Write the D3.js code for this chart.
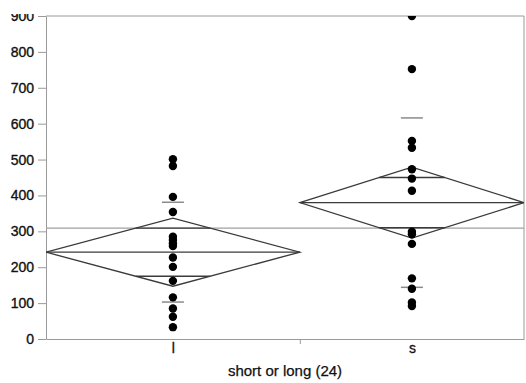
<!DOCTYPE html>
<html>
<head>
<meta charset="utf-8">
<script src="https://cdn.jsdelivr.net/npm/d3@7"></script>
<style>
  body { margin: 0; background: #fff; }
  svg { display: block; }
  text { font-family: "Liberation Sans", Arial, sans-serif; }
</style>
</head>
<body>
<div id="chart"></div>
<script>
// Data
var groups = ["l", "s"];
// share of the x axis each group takes (JMP scales it with the group size)
var groupShare = [0.531, 0.469];
var lValues = [501, 482, 396, 354, 285, 276, 267, 259, 227, 201, 162, 116, 85, 62, 33];
var sValues = [900, 752, 552, 533, 473, 447, 413, 299, 292, 265, 169, 140, 102, 92];
var means = [242, 380];
var ciHalf = [95, 99];
var stdDevs = [139, 236];
var grandMean = 309;
var yTicks = [0, 100, 200, 300, 400, 500, 600, 700, 800, 900];
var xTitle = "short or long (24)";

var values = [lValues, sValues];

var width = 526, height = 383;
// plot box (note: "top" is reserved on window, so use plot* names)
var plotLeft = 46, plotTop = 16, plotRight = 524, plotBottom = 339;

var svg = d3.select("#chart").append("svg")
    .attr("width", width).attr("height", height);

// Scales
var y = d3.scaleLinear().domain([0, 900]).range([plotBottom, plotTop]);
var x = d3.scaleLinear().domain([0, d3.sum(groupShare)]).range([plotLeft, plotRight]);

// cumulative group edges
var edges = [0];
groupShare.forEach(function(s, i){ edges.push(edges[i] + s); });
var boxes = groups.map(function(g, i){
    return { key: g, x0: x(edges[i]), x1: x(edges[i+1]), xc: x((edges[i] + edges[i+1]) / 2), i: i };
});

var defs = svg.append("defs");
defs.append("clipPath").attr("id", "plotclip")
    .append("rect").attr("x", plotLeft).attr("y", plotTop)
    .attr("width", plotRight - plotLeft).attr("height", plotBottom - plotTop);
defs.append("clipPath").attr("id", "labelclip")
    .append("rect").attr("x", 0).attr("y", 14).attr("width", width).attr("height", height);

var frameColor = "#9a9a9a";
var textColor = "#111";

// Frame top and right
svg.append("line").attr("x1", plotLeft).attr("x2", plotRight).attr("y1", plotTop).attr("y2", plotTop)
    .attr("stroke", frameColor).attr("stroke-width", 1);
svg.append("line").attr("x1", plotRight).attr("x2", plotRight).attr("y1", plotTop).attr("y2", plotBottom)
    .attr("stroke", frameColor).attr("stroke-width", 1);

// Y axis (top label is cut off in the scan, so clip at y = 14)
var yAxis = svg.append("g")
    .attr("clip-path", "url(#labelclip)")
    .append("g")
    .attr("transform", "translate(" + plotLeft + ",0)")
    .call(d3.axisLeft(y).tickValues(yTicks).tickSize(8).tickPadding(4).tickSizeOuter(0));
yAxis.select(".domain").attr("stroke", frameColor);
yAxis.selectAll(".tick line").attr("stroke", frameColor);
yAxis.selectAll(".tick text").attr("font-size", 14).attr("fill", textColor)
    .attr("stroke", textColor).attr("stroke-width", 0.35)
    .attr("font-family", "'Liberation Sans', Arial, sans-serif");

// X axis: category labels at group centres
var xAxis = svg.append("g")
    .attr("transform", "translate(0," + plotBottom + ")")
    .call(d3.axisBottom(x)
        .tickValues(boxes.map(function(b){ return x.invert(b.xc); }))
        .tickFormat(function(d, i){ return groups[i]; })
        .tickSize(0).tickPadding(4).tickSizeOuter(0));
xAxis.select(".domain").attr("stroke", frameColor);
xAxis.selectAll(".tick text").attr("font-size", 14).attr("fill", textColor)
    .attr("stroke", textColor).attr("stroke-width", 0.3)
    .attr("font-family", "'Liberation Sans', Arial, sans-serif");

// separator tick between groups
var sepAxis = svg.append("g")
    .attr("transform", "translate(0," + plotBottom + ")")
    .call(d3.axisBottom(x).tickValues(edges.slice(1, -1))
        .tickFormat(function(){ return ""; }).tickSize(5).tickSizeOuter(0));
sepAxis.select(".domain").remove();
sepAxis.selectAll(".tick line").attr("stroke", frameColor);

// Axis title
svg.append("text")
    .attr("x", (plotLeft + plotRight) / 2).attr("y", 376)
    .attr("text-anchor", "middle")
    .attr("font-size", 15).attr("fill", textColor)
    .attr("stroke", textColor).attr("stroke-width", 0.25)
    .text(xTitle);

var plot = svg.append("g").attr("clip-path", "url(#plotclip)");

// Grand mean
plot.append("line")
    .attr("x1", plotLeft).attr("x2", plotRight)
    .attr("y1", y(grandMean)).attr("y2", y(grandMean))
    .attr("stroke", "#a0a0a0").attr("stroke-width", 1.3);

var dark = "#3a3a3a";

// Means diamonds
plot.selectAll("path.diamond")
    .data(boxes)
    .enter().append("path")
    .attr("class", "diamond")
    .attr("fill", "none").attr("stroke", dark).attr("stroke-width", 1.3)
    .attr("d", function(b){
        var m = means[b.i], c = ciHalf[b.i];
        return d3.line()([[b.x0, y(m)], [b.xc, y(m + c)], [b.x1, y(m)], [b.xc, y(m - c)]]) + "Z";
    });

// Mean line across the diamond
plot.selectAll("line.mean")
    .data(boxes)
    .enter().append("line")
    .attr("class", "mean")
    .attr("x1", function(b){ return b.x0; })
    .attr("x2", function(b){ return b.x1; })
    .attr("y1", function(b){ return y(means[b.i]); })
    .attr("y2", function(b){ return y(means[b.i]); })
    .attr("stroke", dark).attr("stroke-width", 1.3);

// Overlap marks at mean +/- ci/sqrt(2)
var overlap = [];
boxes.forEach(function(b){
    [1, -1].forEach(function(s){
        var half = (b.x1 - b.x0) * (1 - Math.SQRT1_2) / 2;
        overlap.push({ xa: b.xc - half, xb: b.xc + half, v: means[b.i] + s * ciHalf[b.i] * Math.SQRT1_2 });
    });
});
plot.selectAll("line.overlap")
    .data(overlap)
    .enter().append("line")
    .attr("class", "overlap")
    .attr("x1", function(d){ return d.xa; })
    .attr("x2", function(d){ return d.xb; })
    .attr("y1", function(d){ return y(d.v); })
    .attr("y2", function(d){ return y(d.v); })
    .attr("stroke", dark).attr("stroke-width", 1.3);

// Std dev dashes
var sdMarks = [];
boxes.forEach(function(b){
    sdMarks.push({ xc: b.xc, v: means[b.i] + stdDevs[b.i] });
    sdMarks.push({ xc: b.xc, v: means[b.i] - stdDevs[b.i] });
});
plot.selectAll("line.sd")
    .data(sdMarks)
    .enter().append("line")
    .attr("class", "sd")
    .attr("x1", function(d){ return d.xc - 11; })
    .attr("x2", function(d){ return d.xc + 11; })
    .attr("y1", function(d){ return y(d.v); })
    .attr("y2", function(d){ return y(d.v); })
    .attr("stroke", "#8a8a8a").attr("stroke-width", 1.5);

// Points
boxes.forEach(function(b){
    plot.append("g").selectAll("circle")
        .data(values[b.i])
        .enter().append("circle")
        .attr("cx", b.xc)
        .attr("cy", function(d){ return y(d); })
        .attr("r", 4.2)
        .attr("fill", "#000");
});
</script>
</body>
</html>
